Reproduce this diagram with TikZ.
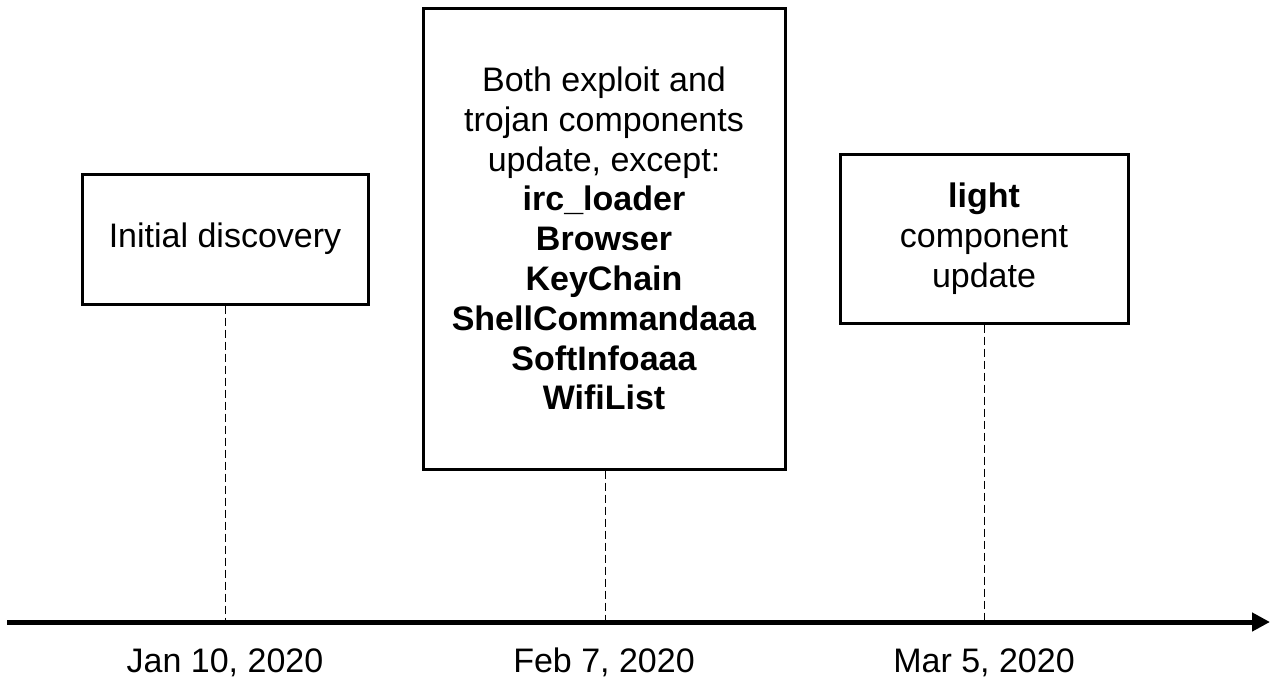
\documentclass[tikz,border=0pt]{standalone}
\usepackage{fontspec}
\setmainfont{Liberation Sans}
\usetikzlibrary{arrows.meta}
\begin{document}
\begin{tikzpicture}[x=1pt,y=-1pt,
  box/.style={draw, line width=3pt, align=center, inner sep=0pt, fill=white,
    font=\fontsize{34}{39.8}\selectfont},
  guide/.style={line width=1pt, dash pattern=on 8pt off 4pt},
  axisline/.style={line width=5pt, -{Triangle[length=18pt,width=18pt]}},
  datelbl/.style={anchor=base, inner sep=0pt, font=\fontsize{34}{40}\selectfont}]
\useasboundingbox (0,0) rectangle (1272,680);
\coordinate (axL) at (7,622);
\coordinate (axR) at (1270,622);
\coordinate (t1) at (225,622);
\coordinate (t2) at (605,622);
\coordinate (t3) at (984,622);
\draw[axisline] (axL) -- (axR);
\node[box, minimum width=286pt, minimum height=130pt] (b1) at (225,239) {Initial discovery};
\node[box, minimum width=362pt, minimum height=461pt] (b2) at (604,238.5)
  {Both exploit and\\trojan components\\update, except:\\\textbf{irc\_loader}\\\textbf{Browser}\\\textbf{KeyChain}\\\textbf{ShellCommandaaa}\\\textbf{SoftInfoaaa}\\\textbf{WifiList}};
\node[box, minimum width=288pt, minimum height=169pt] (b3) at (984,238.5)
  {\textbf{light}\\component\\update};
\draw[guide] (b1.south) -- (t1);
\draw[guide] (b2.south -| t2) -- (t2);
\draw[guide] (b3.south) -- (t3);
\node[datelbl] (d1) at (225,672) {Jan 10, 2020};
\node[datelbl] (d2) at (604,672) {Feb 7, 2020};
\node[datelbl] (d3) at (984,672) {Mar 5, 2020};
\end{tikzpicture}
\end{document}
